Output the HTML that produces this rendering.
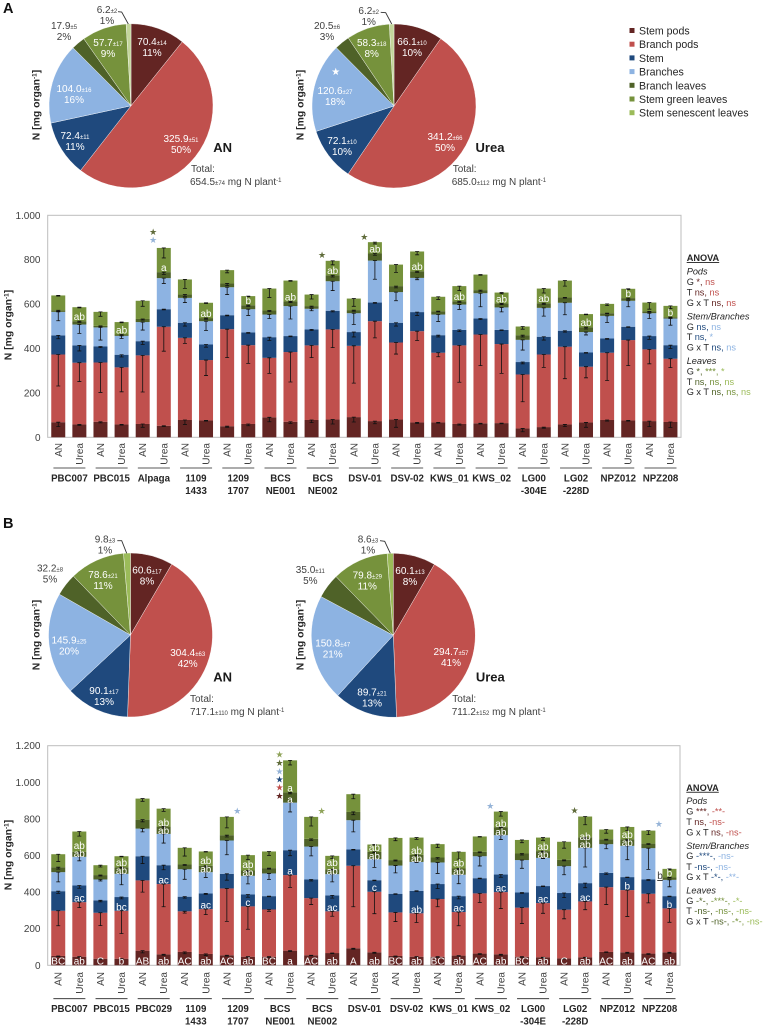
<!DOCTYPE html>
<html lang="en">
<head>
<meta charset="utf-8">
<title>Nitrogen per organ charts</title>
<style>
html,body{margin:0;padding:0;background:#fff}
svg{display:block;font-family:"Liberation Sans",Arial,sans-serif;filter:blur(.3px)}
.an{font-size:9.2px;fill:#262626}
.an tspan.i{font-style:italic}
.dr{fill:#632523}.r{fill:#c0504d}.db{fill:#1f497d}.lb{fill:#8db3e2}.dg{fill:#4f6228}.g{fill:#76923c}.lg{fill:#9bbb59}
.hd{font-size:9.2px;font-weight:bold;fill:#262626;text-decoration:underline}
.sub{font-size:9.2px;font-style:italic;fill:#262626}
.leg{font-size:10.6px;fill:#262626}
</style>
</head>
<body>
<svg id="fig" xmlns="http://www.w3.org/2000/svg" width="763" height="1031" viewBox="0 0 763 1031">
  <rect width="763" height="1031" fill="#fff"/>
  <text x="3" y="13" font-size="14.5" font-weight="bold" fill="#111">A</text>
  <text x="3" y="528" font-size="14.5" font-weight="bold" fill="#111">B</text>

  <g>
    <g><rect x="629.5" y="28" width="5" height="5" fill="#632523"/><text class="leg" x="639" y="34.5">Stem pods</text></g>
    <g><rect x="629.5" y="41.7" width="5" height="5" fill="#c0504d"/><text class="leg" x="639" y="48.2">Branch pods</text></g>
    <g><rect x="629.5" y="55.4" width="5" height="5" fill="#1f497d"/><text class="leg" x="639" y="61.9">Stem</text></g>
    <g><rect x="629.5" y="69.1" width="5" height="5" fill="#8db3e2"/><text class="leg" x="639" y="75.6">Branches</text></g>
    <g><rect x="629.5" y="82.8" width="5" height="5" fill="#4f6228"/><text class="leg" x="639" y="89.3">Branch leaves</text></g>
    <g><rect x="629.5" y="96.5" width="5" height="5" fill="#76923c"/><text class="leg" x="639" y="103">Stem green leaves</text></g>
    <g><rect x="629.5" y="110.2" width="5" height="5" fill="#9bbb59"/><text class="leg" x="639" y="116.7">Stem senescent leaves</text></g>
  </g>

  <g>
    <text class="hd" x="686.7" y="261">ANOVA</text>
    <text class="sub" x="686.7" y="274.5">Pods</text>
    <text class="an" x="686.7" y="285">G <tspan class="dr">*,</tspan> <tspan class="r">ns</tspan></text>
    <text class="an" x="686.7" y="295.5">T <tspan class="dr">ns,</tspan> <tspan class="r">ns</tspan></text>
    <text class="an" x="686.7" y="305.8">G x T <tspan class="dr">ns,</tspan> <tspan class="r">ns</tspan></text>
    <text class="sub" x="686.7" y="319.5">Stem/Branches</text>
    <text class="an" x="686.7" y="329.8">G <tspan class="db">ns,</tspan> <tspan class="lb">ns</tspan></text>
    <text class="an" x="686.7" y="340.2">T <tspan class="db">ns,</tspan> <tspan class="lb">*</tspan></text>
    <text class="an" x="686.7" y="350.5">G x T <tspan class="db">ns,</tspan> <tspan class="lb">ns</tspan></text>
    <text class="sub" x="686.7" y="364.2">Leaves</text>
    <text class="an" x="686.7" y="374.5">G <tspan class="dg">*,</tspan> <tspan class="g">***,</tspan> <tspan class="lg">*</tspan></text>
    <text class="an" x="686.7" y="384.8">T <tspan class="dg">ns,</tspan> <tspan class="g">ns,</tspan> <tspan class="lg">ns</tspan></text>
    <text class="an" x="686.7" y="395.2">G x T <tspan class="dg">ns,</tspan> <tspan class="g">ns,</tspan> <tspan class="lg">ns</tspan></text>
  </g>
  <g>
    <text class="hd" x="686.3" y="790.8">ANOVA</text>
    <text class="sub" x="686.3" y="804.2">Pods</text>
    <text class="an" x="686.3" y="814.5">G <tspan class="dr">***,</tspan> <tspan class="r">-**-</tspan></text>
    <text class="an" x="686.3" y="824.8">T <tspan class="dr">ns,</tspan> <tspan class="r">-ns-</tspan></text>
    <text class="an" x="686.3" y="835.5">G x T <tspan class="dr">ns,</tspan> <tspan class="r">-ns-</tspan></text>
    <text class="sub" x="686.3" y="848.8">Stem/Branches</text>
    <text class="an" x="686.3" y="859.2">G <tspan class="db">-***-,</tspan> <tspan class="lb">-ns-</tspan></text>
    <text class="an" x="686.3" y="869.8">T <tspan class="db">-ns-,</tspan> <tspan class="lb">-ns-</tspan></text>
    <text class="an" x="686.3" y="879.8">G x T <tspan class="db">-*-,</tspan> <tspan class="lb">-**-</tspan></text>
    <text class="sub" x="686.3" y="893.5">Leaves</text>
    <text class="an" x="686.3" y="903.8">G <tspan class="dg">-*-,</tspan> <tspan class="g">-***-,</tspan> <tspan class="lg">-*-</tspan></text>
    <text class="an" x="686.3" y="914.2">T <tspan class="dg">-ns-,</tspan> <tspan class="g">-ns-,</tspan> <tspan class="lg">-ns-</tspan></text>
    <text class="an" x="686.3" y="924.5">G x T <tspan class="dg">-ns-,</tspan> <tspan class="g">-*-,</tspan> <tspan class="lg">-ns-</tspan></text>
  </g>
</svg>
<script>
/* ---------- PIE DATA ---------- */
const pieANAValues   = [70.4, 325.9, 72.4, 104.0, 17.9, 57.7, 6.2];
const pieANAErrors   = [14, 51, 11, 16, 5, 17, 2];
const pieANAPercents = [11, 50, 11, 16, 2, 9, 1];
const pieUreaAValues   = [66.1, 341.2, 72.1, 120.6, 20.5, 58.3, 6.2];
const pieUreaAErrors   = [10, 66, 10, 27, 6, 18, 2];
const pieUreaAPercents = [10, 50, 10, 18, 3, 8, 1];
const pieANBValues   = [60.6, 304.4, 90.1, 145.9, 32.2, 78.6, 9.8];
const pieANBErrors   = [17, 63, 17, 25, 8, 21, 3];
const pieANBPercents = [8, 42, 13, 20, 5, 11, 1];
const pieUreaBValues   = [60.1, 294.7, 89.7, 150.8, 35.0, 79.8, 8.6];
const pieUreaBErrors   = [13, 57, 21, 47, 11, 29, 3];
const pieUreaBPercents = [8, 41, 13, 21, 5, 11, 1];

/* ---------- PANEL A BAR DATA ---------- */
const groupsA = ["PBC007","PBC015","Alpaga","1109|1433","1209|1707","BCS|NE001","BCS|NE002","DSV-01","DSV-02","KWS_01","KWS_02","LG00|-304E","LG02|-228D","NPZ012","NPZ208"];
const ticksA = [0,200,400,600,800,1000];
const tickLabelsA = ["0","200","400","600","800","1.000"];
const stemPodsA = [68,58,70,58,60,52,78,76,50,60,90,70,78,80,91,73,80,67,67,60,63,64,40,46,58,67,78,76,73,69];
const branchPodsA = [305,278,267,257,309,446,370,272,437,355,268,314,336,406,321,450,347,411,314,354,400,356,243,327,350,251,303,362,323,285];
const stemA = [86,78,72,57,64,79,68,70,63,57,93,72,72,84,62,84,89,86,79,70,72,64,56,80,72,64,64,60,60,61];
const branchesA = [106,94,86,85,86,140,112,105,126,105,102,135,93,133,85,189,138,154,93,114,114,101,100,130,126,92,102,117,103,120];
const branchLeavesA = [7,15,7,6,14,27,15,14,17,18,18,21,12,27,14,32,27,30,15,15,14,18,21,21,24,22,12,12,8,6];
const greenLeavesA = [67,63,63,56,82,109,68,69,60,41,99,94,52,65,52,51,97,89,65,68,70,49,39,66,76,59,42,42,40,51];
const stemPodsErrA = [20,5,5,3,15,3,20,3,5,8,20,8,12,20,22,12,35,5,3,5,3,3,15,5,10,22,5,3,25,25];
const branchPodsErrA = [142,85,135,110,165,110,25,70,128,82,70,135,55,82,168,75,52,42,18,166,140,132,123,58,144,50,125,115,65,40];
const stemErrA = [15,25,5,10,15,3,15,12,3,3,15,3,5,5,22,3,15,15,8,8,5,3,8,15,6,3,3,3,15,15];
const branchesErrA = [40,40,57,12,36,24,21,42,33,28,18,58,9,42,51,84,39,8,31,22,61,20,46,37,54,13,30,27,24,30];
const branchLeavesErrA = [5,5,3,5,5,10,8,5,10,5,5,5,5,8,5,8,8,5,3,5,5,5,8,5,3,8,3,5,3,3];
const greenLeavesErrA = [3,3,20,3,25,45,40,3,12,3,40,3,20,18,35,8,35,15,12,20,3,5,12,20,25,3,8,3,30,12];
const greenLettersA = ["","ab","","ab","","a","","ab","","b","","ab","","ab","","ab","","ab","","ab","","ab","","ab","","ab","","b","","b"];
const starBarsA = [5,5,13,15];
const starLevelsA = [927,891,822,903];
const starKindsA = ["leafDark","branch","leafDark","leafDark"];

/* ---------- PANEL B BAR DATA ---------- */
const groupsB = ["PBC007","PBC015","PBC029","1109|1433","1209|1707","BCS|NE001","BCS|NE002","DSV-01","DSV-02","KWS_01","KWS_02","LG00|-304E","LG02|-228D","NPZ012","NPZ208"];
const ticksB = [0,200,400,600,800,1000,1200];
const tickLabelsB = ["0","200","400","600","800","1.000","1.200"];
const stemPodsB = [51,47,36,36,80,60,73,62,55,47,47,80,55,67,93,71,51,47,47,53,64,60,47,44,38,44,73,71,64,71];
const branchPodsB = [247,298,251,262,384,384,222,245,365,275,258,413,312,228,451,331,238,237,315,238,329,340,268,296,266,305,354,340,327,240];
const stemB = [107,91,68,75,132,103,80,86,80,65,73,136,102,87,89,63,102,123,82,87,83,96,83,93,91,100,78,71,78,67];
const branchesB = [104,157,114,127,151,171,150,116,182,102,124,260,180,116,160,115,154,158,118,117,120,215,177,154,147,193,157,171,171,89];
const branchLeavesB = [27,27,24,36,49,40,26,35,29,29,29,56,42,27,45,40,30,39,27,34,24,44,36,37,34,58,27,36,25,13];
const greenLeavesB = [71,111,54,60,115,98,91,78,100,84,91,175,120,73,97,40,121,94,73,91,84,85,74,74,99,113,53,67,71,47];
const stemPodsErrB = [3,3,3,3,12,5,10,8,5,3,3,5,3,3,5,5,3,3,3,3,5,5,3,3,3,3,3,5,5,5];
const branchPodsErrB = [82,30,70,125,64,124,10,30,180,125,10,67,35,27,224,120,50,50,42,75,50,90,87,56,50,45,95,144,50,76];
const stemErrB = [12,15,8,10,40,25,8,5,35,15,3,30,8,15,3,3,3,3,25,15,3,15,5,3,25,25,8,3,5,3];
const branchesErrB = [53,22,8,60,18,50,55,29,78,44,33,51,51,42,64,45,40,3,60,49,53,24,45,4,47,105,25,76,116,38];
const branchLeavesErrB = [10,10,5,5,12,8,5,8,10,5,5,8,8,5,15,5,5,5,8,5,5,5,8,5,5,8,5,8,5,3];
const greenLeavesErrB = [40,25,10,3,15,15,45,3,60,25,22,25,50,15,25,3,15,10,18,40,3,25,15,15,35,45,20,20,22,5];
const podLettersB = ["BC","ab","C","b","AB","ab","AC","ab","AC","ab","BC","a","AC","ab","A","ab","BC","ab","BC","ab","AC","ab","BC","ab","C","ab","AC","ab","AC","ab"];
const stemLettersB = ["","ac","","bc","","ac","","ac","","c","","a","","ac","","c","","ab","","ac","","ac","","ac","","ac","","b","","b"];
const leafLettersB = ["","ab","","ab","","ab","","ab","","ab","","a","","ab","","ab","","ab","","ab","","ab","","ab","","ab","","ab","",""];
const greenLettersB = ["","ab","","ab","","ab","","ab","","ab","","a","","ab","","ab","","ab","","ab","","ab","","ab","","ab","","ab","","b"];
const starBarsB = [11,11,11,11,11,11,9,13,21,25,29];
const starLevelsB = [1153,1108,1062,1018,973,927,844,844,873,849,775];
const starKindsB = ["leafGreen","leafDark","branch","stem","pod","podDark","branch","leafGreen","branch","leafDark","branch"];

/* ---------- STYLE ---------- */
const NS = "http://www.w3.org/2000/svg";
const fig = document.getElementById("fig");
const seriesColors = {stemPods:"#632523",branchPods:"#c0504d",stem:"#1f497d",branches:"#8db3e2",branchLeaves:"#4f6228",greenLeaves:"#76923c"};
const starColors = {leafDark:"#5f6b3a",leafGreen:"#8fa35a",branch:"#95b3d7",stem:"#1f497d",pod:"#c0504d",podDark:"#632523"};
const TXT = "#404040";

function mk(tag, attrs, parent, text) {
  const el = document.createElementNS(NS, tag);
  for (const k in attrs) el.setAttribute(k, attrs[k]);
  if (text !== undefined) el.textContent = text;
  parent.appendChild(el);
  return el;
}
function yTitle(parent, x, cy) {
  const t = mk("text", {transform:"translate("+x+","+cy+") rotate(-90)", "text-anchor":"middle", "font-size":"10.4", "font-weight":"bold", fill:"#262626"}, parent);
  
  
  t.textContent = "N [mg organ";
  mk("tspan", {"font-size":"6.5", dy:"-3"}, t, "-1");
  mk("tspan", {dy:"3"}, t, "]");
}

/* ---------- PIES ---------- */
function drawPie(name, cx, cy, r, values, senColor) {
  const g = mk("g", {}, fig);
  
  
  const colors = [seriesColors.stemPods, seriesColors.branchPods, seriesColors.stem, seriesColors.branches, seriesColors.branchLeaves, seriesColors.greenLeaves, senColor];
  const total = values.reduce((a, b) => a + b, 0);
  let acc = 0;
  values.forEach((v, i) => {
    const a0 = acc / total * 2 * Math.PI;
    acc += v;
    const a1 = acc / total * 2 * Math.PI;
    const d = "M" + cx + " " + cy +
      "L" + (cx + r * Math.sin(a0)) + " " + (cy - r * Math.cos(a0)) +
      "A" + r + " " + r + " 0 " + (a1 - a0 > Math.PI ? 1 : 0) + " 1 " + (cx + r * Math.sin(a1)) + " " + (cy - r * Math.cos(a1)) + "Z";
    const p = mk("path", {d: d, fill: colors[i], stroke:"#fff", "stroke-width":"0.4"}, g);
    
    
  });
  return g;
}
function pieLabel(g, values, errors, percents, i, x, base, color) {
  const t = mk("text", {x: x, y: base, "text-anchor":"middle", "font-size":"10", fill: color}, g);
  
  
  t.textContent = values[i].toFixed(1);
  mk("tspan", {"font-size":"6"}, t, "±" + errors[i]);
  const u = mk("text", {x: x, y: base + 11, "text-anchor":"middle", "font-size":"10", fill: color}, g);
  
  
  u.textContent = percents[i] + "%";
}
function pieExtras(g, label, lx, ly, totalVal, totalErr, tx1, tx2, ty, leader) {
  const a = mk("text", {x: lx, y: ly, "text-anchor":"middle", "font-size":"13", "font-weight":"bold", fill:"#1a1a1a"}, g, label);
  
  
  const b = mk("text", {x: tx1, y: ty, "font-size":"10", fill: TXT}, g, "Total:");
  
  
  const c = mk("text", {x: tx2, y: ty + 13, "font-size":"10", fill: TXT}, g, totalVal);
  
  
  mk("tspan", {"font-size":"6"}, c, "±" + totalErr);
  mk("tspan", {}, c, " mg N plant");
  mk("tspan", {"font-size":"6", dy:"-3"}, c, "-1");
  const l = mk("polyline", {points: leader, fill:"none", stroke:"#333", "stroke-width":"0.9"}, g);
  
  
}

const W = "#fff", D = TXT;
const pA1 = drawPie("pie-an-a", 131, 105.8, 82, pieANAValues, "#c3d69b");
yTitle(pA1, 39.5, 105);
[[0,152,45,W],[1,181,142,W],[2,75,139,W],[3,74,92,W],[5,108,46,W],[4,64,29,D],[6,107,13,D]].forEach(s => pieLabel(pA1, pieANAValues, pieANAErrors, pieANAPercents, s[0], s[1], s[2], s[3]));
pieExtras(pA1, "AN", 222.7, 152, "654.5", 74, 191, 190, 172, "118,11.7 121.7,12 128.3,24");

const pA2 = drawPie("pie-urea-a", 394, 106, 82, pieUreaAValues, "#c3d69b");
yTitle(pA2, 303.5, 105);
[[0,412,45,W],[1,445,140,W],[2,342,144,W],[3,335,94,W],[5,371.7,46,W],[4,327,29,D],[6,368.7,14,D]].forEach(s => pieLabel(pA2, pieUreaAValues, pieUreaAErrors, pieUreaAPercents, s[0], s[1], s[2], s[3]));
pieExtras(pA2, "Urea", 490, 152, "685.0", 112, 452.7, 451.7, 172, "380.7,12.3 385.7,12.7 391.7,24");
const pStar = mk("text", {x: 335.7, y: 75, "text-anchor":"middle", "font-size":"10", fill:"#fff", "font-family":"DejaVu Sans, sans-serif"}, pA2, "★");



const pB1 = drawPie("pie-an-b", 130.5, 635, 82, pieANBValues, "#9bbb59");
yTitle(pB1, 39.5, 635);
[[0,147,573.5,W],[1,187.7,656,W],[2,104,694,W],[3,69,643.5,W],[5,103,578,W],[4,50,571.5,D],[6,105,542.5,D]].forEach(s => pieLabel(pB1, pieANBValues, pieANBErrors, pieANBPercents, s[0], s[1], s[2], s[3]));
pieExtras(pB1, "AN", 222.7, 681.5, "717.1", 110, 190, 190, 702, "117.3,540.7 121.7,540.7 126.7,553.3");

const pB2 = drawPie("pie-urea-b", 393.3, 635.3, 82, pieUreaBValues, "#9bbb59");
yTitle(pB2, 303.5, 635);
[[0,410,574,W],[1,451,655,W],[2,372,695.5,W],[3,332.7,646.5,W],[5,367.3,578.5,W],[4,310.3,573,D],[6,368,542.5,D]].forEach(s => pieLabel(pB2, pieUreaBValues, pieUreaBErrors, pieUreaBPercents, s[0], s[1], s[2], s[3]));
pieExtras(pB2, "Urea", 490.3, 681.5, "711.2", 152, 452.3, 451.7, 702, "380,540.7 384.7,541.3 390.3,553.3");

/* ---------- BARS ---------- */
function drawBars(cfg) {
  const g = mk("g", {}, fig);
  
  
  const n = cfg.series[0].values.length;
  const step = (cfg.right - cfg.left) / n;
  const xs = i => cfg.left + (i + 0.5) * step;
  const ys = v => cfg.y0 - v * (cfg.y0 - cfg.yTop) / cfg.yMax;

  const frame = mk("rect", {x: cfg.left, y: cfg.yTop, width: cfg.right - cfg.left, height: cfg.y0 - cfg.yTop, fill:"none", stroke:"#bdbdbd", "stroke-width":"1"}, g);
  
  

  cfg.ticks.forEach((v, i) => {
    const t = mk("text", {x: 40.5, y: ys(v) + 3.5, "text-anchor":"end", "font-size":"10", fill: TXT}, g, cfg.tickLabels[i]);
    
    
  });
  yTitle(g, 11.5, cfg.titleY);

  const tops = new Array(n).fill(0);
  const tops2 = [];
  cfg.series.forEach(s => {
    const cur = [];
    s.values.forEach((v, i) => {
      const b = tops[i];
      tops[i] = b + v;
      cur.push(tops[i]);
      const r = mk("rect", {x: xs(i) - 7, y: ys(tops[i]), width: 14, height: ys(b) - ys(tops[i]), fill: s.color}, g);
      
      
    });
    tops2.push(cur);
  });
  cfg.series.forEach((s, k) => {
    s.errors.forEach((e, i) => {
      const top = tops2[k][i];
      const xc = xs(i), y1 = ys(top), y2 = ys(top - e);
      const w = mk("path", {d:"M" + xc + " " + y1 + "V" + y2 + "M" + (xc - 2) + " " + y1 + "H" + (xc + 2) + "M" + (xc - 2) + " " + y2 + "H" + (xc + 2), stroke:"#111", "stroke-width":"0.8", fill:"none"}, g);
      
      
    });
  });

  function letter(i, txt, yc) {
    if (!txt) return;
    const t = mk("text", {x: xs(i), y: yc + 3.5, "text-anchor":"middle", "font-size":"10", fill:"#fff"}, g, txt);
    
    
  }
  if (cfg.greenOnly) {
    cfg.greenOnly.forEach((txt, i) => letter(i, txt, ys(tops2[4][i]) - 4.5));
  } else {
    cfg.podLetters.forEach((txt, i) => letter(i, txt, cfg.y0 - 4.5));
    cfg.stemLetters.forEach((txt, i) => letter(i, txt, ys(tops2[1][i]) - 4));
    cfg.leafLetters.forEach((txt, i) => letter(i, txt, ys(tops2[3][i]) - 3.3));
    cfg.greenLetters.forEach((txt, i) => {
      const big = cfg.series[5].values[i] > 150;
      const small = cfg.leafLetters[i] === "";
      letter(i, txt, small ? ys(tops2[4][i]) - 4.3 : ys(tops2[3][i]) - (big ? 14.7 : 11.5));
    });
  }

  cfg.starBars.forEach((b, i) => {
    const t = mk("text", {x: xs(b) - 10.6, y: ys(cfg.starLevels[i]) + 3.4, "text-anchor":"middle", "font-size":"9", fill: starColors[cfg.starKinds[i]], "font-family":"DejaVu Sans, sans-serif"}, g, "★");
    
    
  });

  for (let i = 0; i < n; i++) {
    const lbl = i % 2 === 0 ? "AN" : "Urea";
    const t = mk("text", {transform:"translate(" + (xs(i) + 3.5) + "," + cfg.catTop + ") rotate(-90)", "text-anchor":"end", "font-size":"10", fill: TXT}, g, lbl);
    
    
  }
  cfg.groups.forEach((name, j) => {
    const c = (xs(j * 2) + xs(j * 2 + 1)) / 2 + 0.6;
    const l = mk("line", {x1: c - 16, x2: c + 16, y1: cfg.groupLine, y2: cfg.groupLine, stroke:"#222", "stroke-width":"0.8"}, g);
    
    
    name.split("|").forEach((part, k) => {
      const t = mk("text", {x: c, y: cfg.groupText + k * 12.5, "text-anchor":"middle", "font-size":"9.7", "font-weight":"bold", fill:"#262626"}, g, part);
      
      
    });
  });
  return {g, xs, ys};
}

drawBars({
  name:"stacked-bar-chart-a", left:47.7, right:681, y0:437.3, yTop:215.3, yMax:1000, titleY:325,
  ticks:ticksA, tickLabels:tickLabelsA, groups:groupsA, catTop:443, groupLine:468, groupText:481.5,
  series:[
    {key:"stem-pods", color:seriesColors.stemPods, values:stemPodsA, errors:stemPodsErrA},
    {key:"branch-pods", color:seriesColors.branchPods, values:branchPodsA, errors:branchPodsErrA},
    {key:"stem", color:seriesColors.stem, values:stemA, errors:stemErrA},
    {key:"branches", color:seriesColors.branches, values:branchesA, errors:branchesErrA},
    {key:"branch-leaves", color:seriesColors.branchLeaves, values:branchLeavesA, errors:branchLeavesErrA},
    {key:"green-leaves", color:seriesColors.greenLeaves, values:greenLeavesA, errors:greenLeavesErrA}
  ],
  greenOnly:greenLettersA, starBars:starBarsA, starLevels:starLevelsA, starKinds:starKindsA
});

const chartB = drawBars({
  name:"stacked-bar-chart-b", left:47.7, right:680, y0:965.3, yTop:745.7, yMax:1200, titleY:855,
  ticks:ticksB, tickLabels:tickLabelsB, groups:groupsB, catTop:972, groupLine:998.7, groupText:1012,
  series:[
    {key:"stem-pods", color:seriesColors.stemPods, values:stemPodsB, errors:stemPodsErrB},
    {key:"branch-pods", color:seriesColors.branchPods, values:branchPodsB, errors:branchPodsErrB},
    {key:"stem", color:seriesColors.stem, values:stemB, errors:stemErrB},
    {key:"branches", color:seriesColors.branches, values:branchesB, errors:branchesErrB},
    {key:"branch-leaves", color:seriesColors.branchLeaves, values:branchLeavesB, errors:branchLeavesErrB},
    {key:"green-leaves", color:seriesColors.greenLeaves, values:greenLeavesB, errors:greenLeavesErrB}
  ],
  podLetters:podLettersB, stemLetters:stemLettersB, leafLetters:leafLettersB, greenLetters:greenLettersB,
  starBars:starBarsB, starLevels:starLevelsB, starKinds:starKindsB
});
const extraB = mk("text", {x: 660, y: 879, "text-anchor":"middle", "font-size":"10", fill: TXT, "text-decoration":"underline"}, chartB.g, "b");


</script>
</body>
</html>
